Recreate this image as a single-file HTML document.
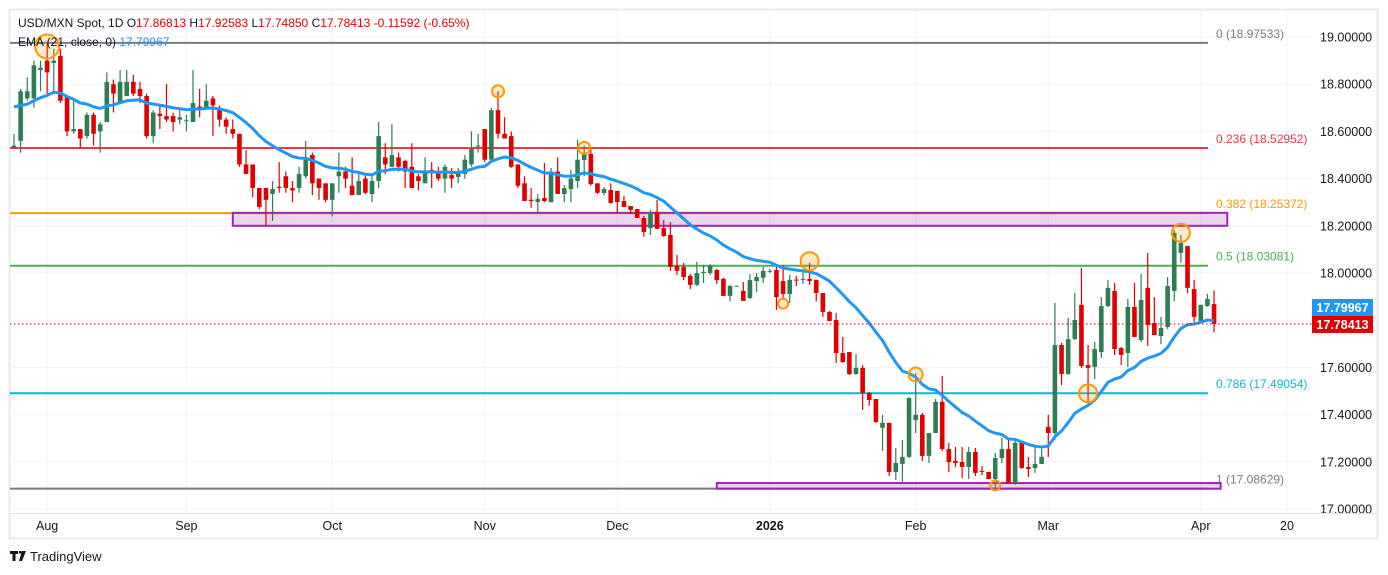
<!DOCTYPE html>
<html><head><meta charset="utf-8"><style>
html,body{margin:0;padding:0;background:#fff;width:1388px;height:575px;overflow:hidden}
svg{display:block;font-family:"Liberation Sans",sans-serif}
</style></head><body>
<svg id="chart" width="1388" height="575" viewBox="0 0 1388 575" xmlns="http://www.w3.org/2000/svg">
<rect x="9.5" y="9.5" width="1368" height="529" fill="#fff" stroke="#e8e9ee" stroke-width="2"/>
<g id="grid"></g>
<g id="fib"></g>
<g id="zones"></g>
<g id="candles"></g>
<path id="ema" fill="none" stroke="#2196f3" stroke-width="3" stroke-linejoin="round"/>
<g id="marks"></g>
<g id="axes"></g>
<line x1="10" y1="513.5" x2="1377" y2="513.5" stroke="#e0e3eb"/>
<text x="18" y="27" font-size="12" fill="#131722">USD/MXN Spot, 1D  O<tspan fill="#e00000">17.86813</tspan>  H<tspan fill="#e00000">17.92583</tspan>  L<tspan fill="#e00000">17.74850</tspan>  C<tspan fill="#e00000">17.78413</tspan>  <tspan fill="#e00000">-0.11592 (-0.65%)</tspan></text>
<text x="18" y="46" font-size="12" fill="#131722">EMA (21, close, 0)  <tspan fill="#2196f3">17.79967</tspan></text>
<g>
<path d="M10 551h8v3h-2.5v7h-3v-7H10z M19 551h2.5v2.5H19z M22 551h4l-4 10h-3z" fill="#131722"/>
<text x="30" y="561" font-size="13" fill="#131722">TradingView</text>
</g>
</svg>
<script>
const opens=[18.53,18.56,18.74,18.74,18.86,18.90,18.89,18.92,18.75,18.60,18.61,18.58,18.67,18.60,18.64,18.80,18.72,18.75,18.81,18.78,18.75,18.58,18.675,18.665,18.665,18.65,18.643,18.64,18.705,18.70,18.74,18.70,18.65,18.61,18.59,18.46,18.46,18.36,18.36,18.335,18.365,18.41,18.36,18.36,18.41,18.50,18.40,18.38,18.31,18.41,18.43,18.37,18.33,18.40,18.335,18.39,18.49,18.45,18.49,18.475,18.45,18.41,18.38,18.437,18.43,18.40,18.415,18.407,18.42,18.46,18.536,18.61,18.48,18.69,18.59,18.58,18.46,18.38,18.31,18.301,18.318,18.30,18.43,18.335,18.356,18.39,18.479,18.505,18.38,18.339,18.352,18.348,18.305,18.284,18.271,18.233,18.19,18.258,18.19,18.161,18.03,18.026,17.988,17.95,18.00,18.00,18.013,17.975,17.903,17.944,17.924,17.894,17.966,17.98,18.007,18.013,17.966,17.911,17.972,17.971,17.975,17.971,17.915,17.835,17.801,17.661,17.665,17.572,17.598,17.492,17.466,17.344,17.365,17.157,17.191,17.221,17.377,17.399,17.225,17.322,17.454,17.254,17.204,17.199,17.178,17.242,17.161,17.157,17.127,17.216,17.254,17.11,17.28,17.178,17.174,17.191,17.348,17.322,17.695,17.572,17.72,17.865,17.61,17.602,17.665,17.86,17.924,17.682,17.661,17.856,17.716,17.937,17.788,17.733,17.771,17.924,18.085,18.114,17.932,17.797,17.86,17.86813];
const highs=[18.59,18.78,18.83,18.90,18.90,18.97,18.95,18.95,18.75,18.73,18.61,18.68,18.68,18.64,18.85,18.82,18.86,18.86,18.84,18.81,18.76,18.69,18.71,18.80,18.68,18.70,18.67,18.86,18.78,18.80,18.75,18.71,18.66,18.65,18.59,18.52,18.46,18.36,18.36,18.39,18.47,18.43,18.39,18.45,18.56,18.51,18.40,18.38,18.38,18.51,18.45,18.49,18.42,18.42,18.41,18.64,18.55,18.63,18.51,18.48,18.55,18.42,18.49,18.47,18.45,18.46,18.445,18.445,18.50,18.60,18.59,18.61,18.70,18.77,18.66,18.60,18.46,18.41,18.36,18.335,18.466,18.445,18.49,18.373,18.437,18.564,18.54,18.53,18.38,18.365,18.38,18.348,18.327,18.284,18.271,18.242,18.267,18.31,18.225,18.216,18.077,18.043,17.996,18.047,18.034,18.038,18.017,17.98,17.95,17.946,17.962,17.996,18.0,18.026,18.017,18.034,18.034,17.992,17.988,18.005,18.043,17.971,17.915,17.839,17.83,17.729,17.665,17.657,17.61,17.496,17.466,17.399,17.365,17.259,17.293,17.475,17.576,17.407,17.322,17.466,17.564,17.28,17.263,17.263,17.263,17.259,17.182,17.157,17.238,17.301,17.297,17.293,17.28,17.22,17.271,17.254,17.399,17.873,17.704,17.81,17.915,18.022,17.695,17.708,17.898,17.971,17.958,17.687,17.89,17.958,17.996,18.085,17.898,17.814,17.983,18.182,18.161,18.114,17.971,17.865,17.911,17.92583];
const lows=[18.53,18.51,18.73,18.70,18.77,18.75,18.77,18.72,18.58,18.59,18.53,18.57,18.54,18.51,18.64,18.68,18.72,18.75,18.75,18.72,18.57,18.55,18.61,18.64,18.60,18.63,18.60,18.64,18.66,18.70,18.58,18.62,18.59,18.57,18.45,18.42,18.32,18.27,18.20,18.22,18.34,18.34,18.30,18.34,18.40,18.33,18.31,18.30,18.24,18.34,18.36,18.33,18.33,18.335,18.30,18.36,18.42,18.45,18.43,18.36,18.36,18.35,18.38,18.36,18.39,18.34,18.36,18.38,18.40,18.45,18.51,18.47,18.48,18.57,18.57,18.445,18.36,18.305,18.276,18.255,18.30,18.30,18.335,18.30,18.30,18.36,18.41,18.37,18.335,18.33,18.293,18.255,18.28,18.25,18.233,18.153,18.161,18.187,18.153,18.009,17.992,17.97,17.932,17.945,17.958,17.992,17.954,17.903,17.88,17.944,17.882,17.89,17.92,17.958,18.0,17.843,17.886,17.873,17.945,17.954,17.95,17.88,17.814,17.797,17.619,17.619,17.568,17.568,17.42,17.437,17.365,17.246,17.14,17.123,17.115,17.216,17.322,17.204,17.195,17.322,17.246,17.157,17.178,17.131,17.127,17.14,17.144,17.127,17.085,17.195,17.11,17.102,17.17,17.136,17.153,17.191,17.221,17.293,17.526,17.568,17.716,17.598,17.449,17.551,17.64,17.856,17.653,17.61,17.602,17.729,17.708,17.691,17.737,17.699,17.763,17.881,18.043,17.915,17.793,17.797,17.857,17.7485];
const closes=[18.54,18.77,18.77,18.88,18.87,18.85,18.90,18.73,18.60,18.61,18.57,18.67,18.59,18.63,18.81,18.76,18.81,18.81,18.76,18.75,18.58,18.68,18.665,18.65,18.64,18.66,18.647,18.72,18.70,18.73,18.71,18.65,18.62,18.59,18.46,18.42,18.36,18.28,18.31,18.356,18.36,18.36,18.35,18.42,18.48,18.38,18.36,18.31,18.38,18.43,18.40,18.33,18.39,18.34,18.39,18.58,18.46,18.50,18.45,18.43,18.36,18.39,18.43,18.432,18.40,18.45,18.40,18.43,18.48,18.525,18.54,18.48,18.69,18.59,18.57,18.45,18.37,18.305,18.305,18.314,18.305,18.43,18.335,18.36,18.40,18.48,18.51,18.377,18.34,18.356,18.297,18.301,18.28,18.267,18.233,18.174,18.258,18.187,18.157,18.026,18.009,17.983,17.95,18.00,18.005,18.03,17.97,17.903,17.945,17.946,17.882,17.97,17.983,18.009,18.009,17.898,17.911,17.971,17.969,17.975,17.966,17.915,17.835,17.797,17.661,17.623,17.572,17.598,17.492,17.462,17.369,17.365,17.157,17.195,17.221,17.47,17.399,17.225,17.322,17.454,17.254,17.199,17.195,17.178,17.242,17.153,17.157,17.127,17.216,17.254,17.11,17.28,17.174,17.17,17.191,17.221,17.322,17.695,17.572,17.72,17.801,17.606,17.598,17.678,17.86,17.937,17.678,17.653,17.856,17.729,17.886,17.78,17.737,17.767,17.945,18.17,18.127,17.937,17.814,17.865,17.89,17.78413];
const emaPeriod=21;
const emaSeed=18.72;
const priceTicks=[19.0,18.8,18.6,18.4,18.2,18.0,17.8,17.6,17.4,17.2,17.0];
const timeLabels=["Aug","Sep","Oct","Nov","Dec","2026","Feb","Mar","Apr","20"];
const timeLabelIndex=[5,26,48,71,91,114,136,156,179,192];
const fibRatios=["0","0.236","0.382","0.5","0.786","1"];
const fibPrices=[18.97533,18.52952,18.25372,18.03081,17.49054,17.08629];
const fibColors=["#787b86","#f23645","#ff9800","#4caf50","#00bcd4","#787b86"];
const zoneTop=[18.255,17.11];
const zoneBottom=[18.20,17.086];
const zoneStart=[33,106];
const zoneEnd=[183,182];
const circleIndex=[5,73,86,120,116,136,148,162,176];
const circlePrice=[18.96,18.77,18.53,18.05,17.87,17.57,17.10,17.49,18.17];
const circleSize=[12,6,6,9,5,7,5,9,9];
const lastPrice=17.78413;
const emaLast=17.79967;

const NS="http://www.w3.org/2000/svg";
const X0=14, DX=6.63, PLOT_R=1313;
const xS=i=>X0+i*DX;
const yS=p=>37+(19-p)*236;
function mk(tag,attrs,parent){const e=document.createElementNS(NS,tag);for(const k in attrs)e.setAttribute(k,attrs[k]);parent.appendChild(e);return e;}
const grid=document.getElementById('grid'),axes=document.getElementById('axes');
priceTicks.forEach(p=>{
  const l=mk('line',{x1:10,x2:PLOT_R,y1:yS(p),y2:yS(p),stroke:'#f0f3fa'},grid);
  
  
  const t=mk('text',{x:1320,y:yS(p)+4.5,'font-size':12.5,fill:'#131722'},axes);
  t.textContent=p.toFixed(5);
  
  
});
timeLabels.forEach((s,k)=>{
  const x=xS(timeLabelIndex[k]);
  const l=mk('line',{x1:x,x2:x,y1:10,y2:513,stroke:'#f0f3fa'},grid);
  
  
  const t=mk('text',{x:x,y:530,'font-size':12.5,fill:'#131722','text-anchor':'middle','font-weight':s==='2026'?'bold':'normal'},axes);
  t.textContent=s;
  
  
});
const fib=document.getElementById('fib');
fibPrices.forEach((p,k)=>{
  const l=mk('line',{x1:10,x2:1208,y1:yS(p),y2:yS(p),stroke:fibColors[k],'stroke-width':2},fib);
  
  
  const t=mk('text',{x:1216,y:yS(p)-5,'font-size':12,fill:fibColors[k]},fib);
  t.textContent=fibRatios[k]+' ('+p.toFixed(5)+')';
  
  
});
const zones=document.getElementById('zones');
zoneTop.forEach((p,k)=>{
  const x1=xS(zoneStart[k]),x2=xS(zoneEnd[k]);
  const r=mk('rect',{x:x1,y:yS(p),width:x2-x1,height:yS(zoneBottom[k])-yS(p),fill:'rgba(156,39,176,0.2)',stroke:'#9c27b0','stroke-width':2},zones);
  
  
});
const cg=document.getElementById('candles');
closes.forEach((c,i)=>{
  const o=opens[i],up=c>=o,col=up?'#2e7d55':'#e00000',x=xS(i);
  const g=mk('g',{},cg);
  
  
  mk('line',{x1:x,x2:x,y1:yS(highs[i]),y2:yS(lows[i]),stroke:col,'stroke-width':1.2},g);
  const top=yS(Math.max(o,c)),bot=yS(Math.min(o,c));
  mk('rect',{x:x-2.3,y:top,width:4.6,height:Math.max(1,bot-top),fill:col},g);
});
let e=emaSeed,d='';const k2=2/(emaPeriod+1);
closes.forEach((c,i)=>{e=c*k2+e*(1-k2);d+=(i?'L':'M')+xS(i).toFixed(1)+' '+yS(e).toFixed(1);});
document.getElementById('ema').setAttribute('d',d);
const marks=document.getElementById('marks');
circleIndex.forEach((ix,k)=>{
  const c=mk('circle',{cx:xS(ix),cy:yS(circlePrice[k]),r:circleSize[k],fill:'rgba(255,152,0,0.2)',stroke:'#ff9800','stroke-width':2},marks);
  
  
});
const pl=mk('line',{x1:10,x2:PLOT_R,y1:yS(lastPrice),y2:yS(lastPrice),stroke:'#e00000','stroke-dasharray':'1.5 2.5'},axes);


[[emaLast,'#2196f3',-17],[lastPrice,'#e00000',0]].forEach(([p,col,off],k)=>{
  const yy=yS(lastPrice)+off-8;
  const r=mk('rect',{x:1312,y:yy,width:61,height:17,fill:col},axes);
  
  
  const t=mk('text',{x:1342.5,y:yy+13,'font-size':12.5,fill:'#fff','text-anchor':'middle','font-weight':'bold'},axes);
  t.textContent=p.toFixed(5);
  
  
});
</script>
</body></html>
